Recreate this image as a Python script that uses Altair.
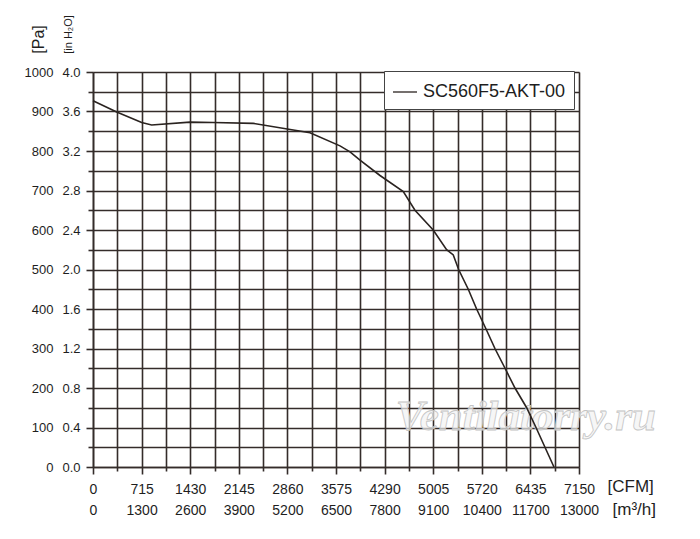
import altair as alt
import pandas as pd

# ---- data ----
flow_m3h = [0, 634, 1302, 1570, 2594, 3210, 4287, 5358, 5805, 6607, 6875, 7142, 7677,
            8300, 8612, 9100, 9458, 9637, 9780, 10038, 10261, 10510, 10751, 11021,
            11288, 11600, 11850, 12090, 12330]
pressure_pa = [927, 899, 872, 866, 873, 872, 870, 853, 846, 813, 798, 777, 738,
               697, 650, 600, 550, 537, 500, 450, 400, 350, 300, 250,
               200, 150, 100, 50, 0]
series_name = "SC560F5-AKT-00"

x_ticks = [0, 1300, 2600, 3900, 5200, 6500, 7800, 9100, 10400, 11700, 13000]
cfm_labels = ["0", "715", "1430", "2145", "2860", "3575", "4290", "5005", "5720", "6435", "7150"]
m3h_labels = ["0", "1300", "2600", "3900", "5200", "6500", "7800", "9100", "10400", "11700", "13000"]
x_grid = [0, 650, 1300, 1950, 2600, 3250, 3900, 4550, 5200, 5850, 6500, 7150, 7800,
          8450, 9100, 9750, 10400, 11050, 11700, 12350, 13000]

y_ticks = [0, 100, 200, 300, 400, 500, 600, 700, 800, 900, 1000]
pa_labels = ["0", "100", "200", "300", "400", "500", "600", "700", "800", "900", "1000"]
h2o_labels = ["0.0", "0.4", "0.8", "1.2", "1.6", "2.0", "2.4", "2.8", "3.2", "3.6", "4.0"]
y_grid = [0, 50, 100, 150, 200, 250, 300, 350, 400, 450, 500, 550, 600, 650, 700,
          750, 800, 850, 900, 950, 1000]

watermark_text = ["Ventilatorry.ru"]
watermark_x = [8100]
watermark_y = [127]

df = pd.DataFrame({"flow": flow_m3h, "pa": pressure_pa, "series": [series_name] * len(flow_m3h)})
wm = pd.DataFrame({"t": watermark_text, "x": watermark_x, "y": watermark_y})


def lookup_expr(ticks, labels):
    return f"indexof({ticks}, datum.value) >= 0 ? {labels}[indexof({ticks}, datum.value)] : ''"


def is_major(ticks):
    return f"indexof({ticks}, datum.value) >= 0"


GRID = "#342c2a"
TXT = "#1e1e1e"
FONT = "Liberation Sans"

xs = alt.Scale(domain=[0, 13000], nice=False, zero=False)
ys = alt.Scale(domain=[0, 1000], nice=False, zero=False)

axis_cfm = alt.Axis(
    values=x_grid, grid=True, gridColor=GRID, gridWidth=1.6,
    domain=True, domainColor=GRID, domainWidth=1.6,
    ticks=True, tickColor=GRID, tickWidth=1.6,
    tickSize={"condition": {"test": is_major(x_ticks), "value": 7}, "value": 4},
    labelExpr=lookup_expr(x_ticks, cfm_labels), labelOverlap=False, labelFlush=False,
    labelFontSize=14, labelColor=TXT, labelFont=FONT, labelPadding=8,
    title="[CFM]", titleX=514, titleY=19, titleAlign="left", titleBaseline="middle",
    titleFontSize=17, titleFontWeight="normal", titleColor=TXT, titleFont=FONT,
    orient="bottom",
)
axis_m3h = alt.Axis(
    values=x_ticks, grid=False, domain=False, ticks=False, tickSize=0,
    labelExpr=lookup_expr(x_ticks, m3h_labels), labelOverlap=False, labelFlush=False,
    labelFontSize=14, labelColor=TXT, labelFont=FONT, labelPadding=36,
    title="[m³/h]", titleX=519, titleY=42, titleAlign="left", titleBaseline="middle",
    titleFontSize=17, titleFontWeight="normal", titleColor=TXT, titleFont=FONT,
    orient="bottom",
)
axis_h2o = alt.Axis(
    values=y_grid, grid=True, gridColor=GRID, gridWidth=1.6,
    domain=True, domainColor=GRID, domainWidth=1.6,
    ticks=True, tickColor=GRID, tickWidth=1.6,
    tickSize={"condition": {"test": is_major(y_ticks), "value": 7}, "value": 5},
    labelExpr=lookup_expr(y_ticks, h2o_labels), labelOverlap=False, labelFlush=False,
    labelFontSize=13, labelColor=TXT, labelFont=FONT, labelPadding=6,
    labelAlign="right", labelBaseline="middle",
    title="[in H₂O]", titleX=-25, titleY=-38, titleAngle=-90, titleAlign="center",
    titleBaseline="middle", titleFontSize=11, titleFontWeight="normal",
    titleColor=TXT, titleFont=FONT, orient="left",
)
axis_pa = alt.Axis(
    values=y_ticks, grid=False, domain=False, ticks=False, tickSize=0,
    labelExpr=lookup_expr(y_ticks, pa_labels), labelOverlap=False, labelFlush=False,
    labelFontSize=13, labelColor=TXT, labelFont=FONT, labelPadding=40,
    labelAlign="right", labelBaseline="middle",
    title="[Pa]", titleX=-55, titleY=-33, titleAngle=-90, titleAlign="center",
    titleBaseline="middle", titleFontSize=16, titleFontWeight="normal",
    titleColor=TXT, titleFont=FONT, orient="left",
)

curve = alt.Chart(df).mark_line(strokeWidth=1.6).encode(
    x=alt.X("flow:Q", scale=xs, axis=axis_cfm),
    y=alt.Y("pa:Q", scale=ys, axis=axis_h2o),
    color=alt.Color(
        "series:N",
        scale=alt.Scale(domain=[series_name], range=["#2a2320"]),
        legend=alt.Legend(
            title=None, orient="none", legendX=291, legendY=-1,
            symbolType="stroke", symbolSize=576, symbolStrokeWidth=1.3,
            labelFontSize=18, labelFont=FONT, labelColor=TXT, labelOffset=5,
            padding=8, strokeColor="#444444", fillColor="white",
        ),
    ),
)

second_axes = alt.Chart(df).mark_line(opacity=0).encode(
    x=alt.X("flow:Q", scale=xs, axis=axis_m3h),
    y=alt.Y("pa:Q", scale=ys, axis=axis_pa),
)

watermark = alt.Chart(wm).mark_text(
    align="left", baseline="middle", font="Liberation Serif", fontSize=43,
    fontStyle="italic", fontWeight="bold", fill="#f2f2f2", fillOpacity=0.7,
    stroke="#c4c4c4", strokeWidth=0.8,
).encode(
    x=alt.X("x:Q", scale=xs, axis=None),
    y=alt.Y("y:Q", scale=ys, axis=None),
    text="t:N",
)

chart = alt.layer(second_axes, watermark, curve).resolve_axis(
    x="independent", y="independent"
).properties(
    width=486, height=395,
    autosize=alt.AutoSizeParams(type="none"),
    padding={"left": 85, "top": 64, "right": 113, "bottom": 64},
).configure_view(strokeWidth=0).configure(background="white")

chart.save("out.html", embed_options={"renderer": "svg", "actions": False})
